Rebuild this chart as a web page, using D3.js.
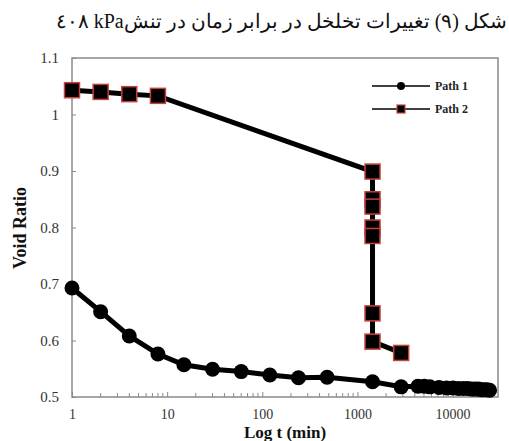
<!DOCTYPE html>
<html><head><meta charset="utf-8">
<script src="https://cdn.jsdelivr.net/npm/d3@7"></script>
<style>body{margin:0;background:#fff}svg{display:block}
.sf{font-family:"Liberation Serif","DejaVu Serif",serif}</style>
</head><body>
<svg id="c" width="509" height="441"></svg>
<script>
const titleText = "شکل (۹) تغییرات تخلخل در برابر زمان در تنشkPa ٤٠٨";
const seriesNames = ["Path 1", "Path 2"];
const path1T = [1, 2, 4, 8, 15, 30, 60, 120, 240, 480, 1440, 2880, 4320, 5040, 5760, 7200, 8640, 10080, 11520, 12960, 14400, 15840, 17280, 18720, 20160, 21600, 23040, 24480];
const path1E = [0.693, 0.651, 0.608, 0.576, 0.557, 0.549, 0.545, 0.539, 0.534, 0.535, 0.527, 0.518, 0.519, 0.519, 0.518, 0.517, 0.516, 0.516, 0.515, 0.515, 0.515, 0.514, 0.514, 0.514, 0.513, 0.513, 0.513, 0.512];
const path2T = [1, 2, 4, 8, 1440, 1440, 1440, 1440, 1440, 1440, 1440, 2880];
const path2E = [1.043, 1.040, 1.036, 1.033, 0.899, 0.850, 0.837, 0.800, 0.785, 0.648, 0.598, 0.578];
const yTicks = [0.5, 0.6, 0.7, 0.8, 0.9, 1, 1.1];
const xTicks = [1, 10, 100, 1000, 10000];

const svg = d3.select("#c");
const L = 72, R = 498, T = 58, B = 397;
const x = d3.scaleLog().domain([1, 30000]).range([L, R]);
const y = d3.scaleLinear().domain([0.5, 1.1]).range([B, T]);

// title
svg.append("text").attr("x", 507).attr("y", 28)
  .attr("direction", "rtl").attr("text-anchor", "start").attr("class", "sf")
  .attr("font-size", 20).attr("fill", "#111").text(titleText);

// frame
svg.append("rect").attr("x", L).attr("y", T).attr("width", R - L).attr("height", B - T)
  .attr("fill", "none").attr("stroke", "#8a8a8a").attr("stroke-width", 1.5);

// y axis
const yAx = svg.append("g").attr("transform", `translate(${L},0)`)
  .call(d3.axisLeft(y).tickValues(yTicks).tickSize(-4).tickPadding(13).tickFormat(d => d3.format("")(d)));
yAx.attr("font-family", null);
yAx.select(".domain").remove();
yAx.selectAll("line").attr("stroke", "#8a8a8a");
yAx.selectAll("text").attr("class", "sf").attr("font-size", 15).attr("fill", "#333");

// x axis
const minor = [];
for (let p = 1; p <= 10000; p *= 10) for (let k = 2; k <= 9; k++) if (p * k < 30000) minor.push(p * k);
const xAx = svg.append("g").attr("transform", `translate(0,${B})`)
  .call(d3.axisBottom(x).tickValues(xTicks).tickSize(-5).tickPadding(12).tickFormat(d3.format("d")));
xAx.attr("font-family", null);
xAx.select(".domain").remove();
xAx.selectAll("line").attr("stroke", "#8a8a8a");
xAx.selectAll("text").attr("class", "sf").attr("font-size", 14).attr("fill", "#333");
svg.append("g").selectAll("line").data(minor).join("line")
  .attr("x1", d => x(d)).attr("x2", d => x(d)).attr("y1", B).attr("y2", B - 4)
  .attr("stroke", "#8a8a8a");

// axis titles
svg.append("text").attr("x", 285).attr("y", 438).attr("text-anchor", "middle").attr("class", "sf")
  .attr("font-weight", "bold").attr("font-size", 17).attr("fill", "#111")
  .text("Log t (min)");
svg.append("text").attr("transform", "translate(26,228) rotate(-90)").attr("text-anchor", "middle").attr("class", "sf")
  .attr("font-weight", "bold").attr("font-size", 18).attr("fill", "#111")
  .text("Void Ratio");

// series
const line = d3.line().x(d => x(d[0])).y(d => y(d[1]));
const p1 = path1T.map((t, i) => [t, path1E[i]]);
const p2 = path2T.map((t, i) => [t, path2E[i]]);
svg.append("path").datum(p1).attr("d", line).attr("fill", "none").attr("stroke", "#000").attr("stroke-width", 5);
svg.append("g").selectAll("circle").data(p1).join("circle")
  .attr("cx", d => x(d[0])).attr("cy", d => y(d[1])).attr("r", 7.5).attr("fill", "#000");
svg.append("path").datum(p2).attr("d", line).attr("fill", "none").attr("stroke", "#000").attr("stroke-width", 5);
const s = 15;
svg.append("g").selectAll("rect").data(p2).join("rect")
  .attr("x", d => x(d[0]) - s / 2).attr("y", d => y(d[1]) - s / 2).attr("width", s).attr("height", s)
  .attr("fill", "#000").attr("stroke", "#c8403c").attr("stroke-width", 1.5);

// legend
const lg = svg.append("g");
[0, 1].forEach(i => {
  const ly = 86 + i * 23;
  lg.append("line").attr("x1", 372).attr("x2", 430).attr("y1", ly).attr("y2", ly).attr("stroke", "#000").attr("stroke-width", 1.5);
  if (i === 0) lg.append("circle").attr("cx", 401).attr("cy", ly).attr("r", 4).attr("fill", "#000");
  else lg.append("rect").attr("x", 397).attr("y", ly - 4).attr("width", 8).attr("height", 8).attr("fill", "#000").attr("stroke", "#c8403c").attr("stroke-width", 1.2);
  lg.append("text").attr("x", 435).attr("y", ly + 4).attr("class", "sf").attr("font-weight", "bold")
    .attr("font-size", 12).attr("fill", "#222").text(seriesNames[i]);
});
</script>
</body></html>
